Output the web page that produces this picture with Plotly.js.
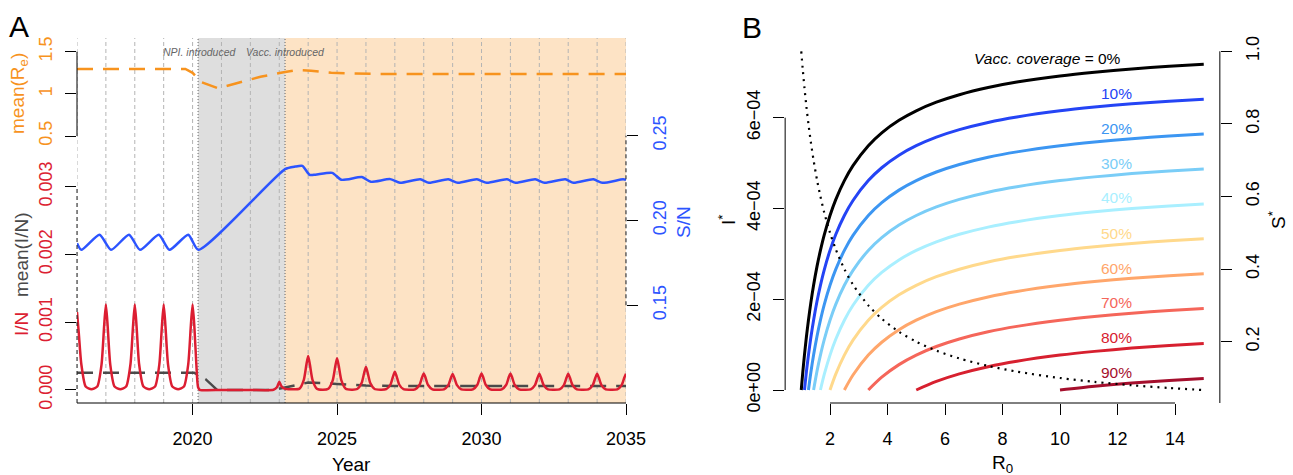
<!DOCTYPE html>
<html>
<head>
<meta charset="utf-8">
<script src="https://cdn.plot.ly/plotly-3.0.1.min.js"></script>
<style>html,body{margin:0;padding:0;background:#fff;}#chart{width:1293px;height:475px;}</style>
</head>
<body>
<div id="chart"></div>
<script>
// ---------- Panel A data ----------
const YEAR_GRID = [2016,2017,2018,2019,2020,2021,2022,2023,2024,2025,2026,2027,2028,2029,2030,2031,2032,2033,2034,2035];
const YEAR_TICKS = [2020, 2025, 2030, 2035];
const NPI_START = 2020.19;
const VACC_START = 2023.2;

// I/N (prevalence)
const IN_T = [
2016.00,2016.06,2016.15,2016.30,2016.50,
2016.70,2016.85,2016.94,2017.00,2017.06,2017.15,2017.30,2017.50,
2017.70,2017.85,2017.94,2018.00,2018.06,2018.15,2018.30,2018.50,
2018.70,2018.85,2018.94,2019.00,2019.06,2019.15,2019.30,2019.50,
2019.70,2019.85,2019.94,2020.00,2020.06,2020.13,2020.19,2020.25,
2021.00,2022.00,2022.80,2022.92,2023.00,2023.07,2023.18,2023.40,
2023.70,2023.85,2023.94,2024.00,2024.06,2024.15,2024.30,2024.50,
2024.70,2024.85,2024.94,2025.00,2025.06,2025.15,2025.30,2025.50,
2025.70,2025.85,2025.94,2026.00,2026.06,2026.15,2026.30,2026.50,
2026.70,2026.85,2026.94,2027.00,2027.06,2027.15,2027.30,2027.50,
2027.70,2027.85,2027.94,2028.00,2028.06,2028.15,2028.30,2028.50,
2028.70,2028.85,2028.94,2029.00,2029.06,2029.15,2029.30,2029.50,
2029.70,2029.85,2029.94,2030.00,2030.06,2030.15,2030.30,2030.50,
2030.70,2030.85,2030.94,2031.00,2031.06,2031.15,2031.30,2031.50,
2031.70,2031.85,2031.94,2032.00,2032.06,2032.15,2032.30,2032.50,
2032.70,2032.85,2032.94,2033.00,2033.06,2033.15,2033.30,2033.50,
2033.70,2033.85,2033.94,2034.00,2034.06,2034.15,2034.30,2034.50,
2034.70,2034.85,2034.94,2035.00];
const IN_V = [
0.00115,0.00085,0.00038,0.00005,0.00001,
0.00005,0.00038,0.00095,0.00126,0.00095,0.00038,0.00005,0.00001,
0.00005,0.00038,0.00095,0.00126,0.00095,0.00038,0.00005,0.00001,
0.00005,0.00038,0.00095,0.00126,0.00095,0.00038,0.00005,0.00001,
0.00005,0.00038,0.00095,0.00126,0.00095,0.00038,0.00004,0.000003,
0,0,0.000003,0.00004,0.00012,0.00006,0.00002,0.00001,
0.00002,0.00015,0.000375,0.0005,0.000375,0.00015,0.00002,0.000005,
0.000019,0.000141,0.000353,0.00047,0.000353,0.000141,0.000019,0.000005,
0.000014,0.000102,0.000255,0.00034,0.000255,0.000102,0.000014,0.000004,
0.000011,0.000081,0.000203,0.00027,0.000203,0.000081,0.000011,0.000004,
0.00001,0.0000735,0.000184,0.000245,0.000184,0.0000735,0.00001,0.000004,
0.0000094,0.000071,0.000177,0.000236,0.000177,0.000071,0.0000094,0.000004,
0.00001,0.0000735,0.000184,0.000245,0.000184,0.0000735,0.00001,0.000004,
0.00001,0.0000735,0.000184,0.000245,0.000184,0.0000735,0.00001,0.000004,
0.0000096,0.000072,0.00018,0.00024,0.00018,0.000072,0.0000096,0.000004,
0.0000096,0.000072,0.00018,0.00024,0.00018,0.000072,0.0000096,0.000004,
0.0000096,0.000072,0.00018,0.00024,0.00018,0.000072,0.0000096,0.000004,
0.0000096,0.000072,0.00018,0.00024];

// mean(I/N)
const MI_T = [2016, 2020.05, 2020.45, 2020.85, 2022.8, 2023.4, 2024.0, 2025.0, 2026.0, 2027.0, 2035];
const MI_V = [0.000255, 0.000255, 0.00016, 0, 0, 0.00005, 0.00011, 0.00009, 0.000065, 0.00006, 0.00006];

// mean(Re)
const RE_T = [2016, 2019.75, 2020.0, 2020.3, 2020.88, 2021.5, 2022.35, 2023.15, 2023.6, 2024.1, 2024.8, 2025.4, 2026.5, 2035];
const RE_V = [1.295, 1.295, 1.25, 1.14, 1.066, 1.125, 1.203, 1.256, 1.283, 1.275, 1.251, 1.242, 1.235, 1.235];

// S/N
const SN_T = [2016.00,2016.15,2016.78,2017.18,2017.80,2018.18,2018.83,2019.20,2019.85,2020.20,
2023.20,2023.55,2023.80,2024.05,2024.25,2024.83,2025.15,2025.86,2026.17,2026.84,2027.18,
2027.88,2028.18,2028.85,2029.18,2029.84,2030.18,2030.88,2031.18,2031.86,2032.18,2032.90,
2033.18,2033.87,2034.18,2034.90,2035.00];
const SN_V = [0.1866,0.1827,0.1916,0.1827,0.1916,0.1827,0.1916,0.1827,0.1916,0.1827,
0.2303,0.2318,0.2322,0.2269,0.2270,0.2281,0.2240,0.2256,0.2228,0.2244,0.2222,
0.2243,0.2222,0.2243,0.2222,0.2243,0.2222,0.2243,0.2222,0.2243,0.2222,0.2243,
0.2222,0.2243,0.2222,0.2243,0.2240];

// ---------- Panel B data ----------
const R0 = [1,1.05,1.111,1.18,1.25,1.33,1.429,1.55,1.667,1.8,2,2.2,2.5,2.8,3.333,3.8,4.4,5,5.7,6.5,7.5,8.5,10,11.2,12.5,13.8,15];
const R0_TICKS = [2,4,6,8,10,12,14];
// I* in units of 1e-4, each curve ends at R0 = 15 (aligned to the end of R0)
const I_0  = [0,0.366,0.769,1.173,1.538,1.908,2.307,2.729,3.076,3.418,3.845,4.195,4.614,4.944,5.383,5.666,5.942,6.152,6.341,6.507,6.665,6.785,6.921,7.003,7.075,7.133,7.177];
const I_10 = [0,0.404,0.769,1.139,1.538,1.960,2.307,2.649,3.076,3.426,3.845,4.175,4.614,4.897,5.173,5.383,5.572,5.738,5.896,6.016,6.152,6.234,6.306,6.364,6.408];
const I_20 = [0,0.370,0.769,1.191,1.538,1.880,2.307,2.657,3.076,3.406,3.845,4.128,4.404,4.614,4.803,4.969,5.127,5.247,5.383,5.465,5.537,5.595,5.639];
const I_30 = [0,0.422,0.769,1.111,1.538,1.888,2.307,2.637,3.076,3.359,3.635,3.845,4.034,4.200,4.358,4.478,4.614,4.696,4.768,4.826,4.870];
const I_40 = [0,0.342,0.769,1.119,1.538,1.868,2.307,2.590,2.866,3.076,3.265,3.431,3.589,3.709,3.845,3.927,3.999,4.057,4.101];
const I_50 = [0,0.350,0.769,1.099,1.538,1.821,2.097,2.307,2.496,2.662,2.820,2.940,3.076,3.158,3.230,3.288,3.332];
const I_60 = [0,0.330,0.769,1.052,1.328,1.538,1.727,1.893,2.051,2.171,2.307,2.389,2.461,2.519,2.563];
const I_70 = [0,0.283,0.559,0.769,0.958,1.124,1.282,1.402,1.538,1.620,1.692,1.750,1.794];
const I_80 = [0,0.189,0.355,0.513,0.633,0.769,0.851,0.923,0.981,1.025];
const I_90 = [0,0.082,0.154,0.212,0.256];
const COVERAGE = ['0%','10%','20%','30%','40%','50%','60%','70%','80%','90%'];
const S_STAR = [1,0.9524,0.9,0.8475,0.8,0.7519,0.7,0.6452,0.6,0.5556,0.5,0.4545,0.4,0.3571,0.3,0.2632,0.2273,0.2,0.1754,0.1538,0.1333,0.1176,0.1,0.0893,0.08,0.0725,0.0667];

// ---------- styling ----------
const W = 1293, H = 475;
const px = x => x / W, py = y => 1 - y / H;
const FONT = 'Liberation Sans, Arimo, Helvetica, Arial, sans-serif';
const RED = '#DC1E32', BLUE = '#2C54FF', ORANGE = '#F7931E', GREY = '#4a4a4a';
const CURVE_COLORS = ['#000000','#2444F5','#3C96F2','#7ACDF7','#A9EFFF','#FFD98C','#FFA66B','#F5665A','#D7202F','#A50F2D'];
const CURVES = [I_0,I_10,I_20,I_30,I_40,I_50,I_60,I_70,I_80,I_90];
const LABEL_Y = [59, 94, 128.5, 163, 197.5, 233, 268, 302.5, 337, 372.5];

const domA = [px(77), px(626)];
const domB = [px(785.15), px(1219.85)];
const domY = [py(403), py(38)];

const traces = [];
traces.push({x: MI_T, y: MI_V, xaxis:'x', yaxis:'y', mode:'lines', line:{color:GREY, width:2.5, dash:'16px,10px'}, hoverinfo:'skip'});
traces.push({x: IN_T, y: IN_V, xaxis:'x', yaxis:'y', mode:'lines', line:{color:RED, width:2.5, shape:'spline', smoothing:0.6}, hoverinfo:'skip'});
traces.push({x: RE_T, y: RE_V, xaxis:'x', yaxis:'y2', mode:'lines', line:{color:ORANGE, width:2.5, dash:'16px,10px'}, hoverinfo:'skip'});
traces.push({x: SN_T, y: SN_V, xaxis:'x', yaxis:'y3', mode:'lines', line:{color:BLUE, width:2.5, shape:'spline', smoothing:0.6}, hoverinfo:'skip'});

CURVES.forEach((vals, i) => {
  traces.push({x: R0.slice(R0.length - vals.length), y: vals, xaxis:'x2', yaxis:'y4', mode:'lines',
    line:{color:CURVE_COLORS[i], width:3, shape:'spline', smoothing:0.8}, hoverinfo:'skip'});
});
traces.push({x: R0, y: S_STAR, xaxis:'x2', yaxis:'y5', mode:'lines', line:{color:'#000', width:2.2, dash:'2px,5px', shape:'spline', smoothing:0.8}, hoverinfo:'skip'});

const tickFont = c => ({family:FONT, size:18, color:c});
const baseAx = {showgrid:false, zeroline:false, showline:false, ticks:'outside', ticklen:11, tickwidth:1, tickcolor:'#000', fixedrange:true};

const shapes = [];
// shaded periods
shapes.push({type:'rect', xref:'x', yref:'paper', x0:NPI_START, x1:VACC_START, y0:domY[0], y1:domY[1], fillcolor:'#DEDEDE', line:{width:0}, layer:'below'});
shapes.push({type:'rect', xref:'x', yref:'paper', x0:VACC_START, x1:2035, y0:domY[0], y1:domY[1], fillcolor:'#FDE3C5', line:{width:0}, layer:'below'});
// yearly grid
YEAR_GRID.forEach(yr => shapes.push({type:'line', xref:'x', yref:'paper', x0:yr, x1:yr, y0:domY[0], y1:domY[1], line:{color:'#B4B4B4', width:1, dash:'4px,3px'}, layer:'below'}));
// intervention markers
[NPI_START, VACC_START].forEach(t => shapes.push({type:'line', xref:'x', yref:'paper', x0:t, x1:t, y0:domY[0], y1:domY[1], line:{color:'#666', width:1, dash:'1px,2px'}, layer:'below'}));
// axis lines panel A
shapes.push({type:'line', xref:'x', yref:'paper', x0:2016, x1:2035, y0:domY[0], y1:domY[0], line:{color:'#000', width:1}});
shapes.push({type:'line', xref:'paper', yref:'y2', x0:domA[0], x1:domA[0], y0:0.5, y1:1.5, line:{color:'#000', width:1}});
shapes.push({type:'line', xref:'paper', yref:'y', x0:domA[0], x1:domA[0], y0:-0.000192, y1:0.003, line:{color:'#222', width:1, dash:'4px,3px'}});
shapes.push({type:'line', xref:'paper', yref:'y3', x0:domA[1], x1:domA[1], y0:0.15, y1:0.25, line:{color:'#222', width:1, dash:'4px,3px'}});
// axis lines panel B
shapes.push({type:'line', xref:'x2', yref:'paper', x0:2, x1:14, y0:domY[0], y1:domY[0], line:{color:'#000', width:1}});
shapes.push({type:'line', xref:'paper', yref:'y4', x0:domB[0], x1:domB[0], y0:0, y1:6, line:{color:'#000', width:1}});
shapes.push({type:'line', xref:'paper', yref:'y5', x0:domB[1], x1:domB[1], y0:0.0311, y1:1.0, line:{color:'#000', width:1}});

const ann = (text, x, y, o) => Object.assign({text, x:px(x), y:py(y), xref:'paper', yref:'paper', showarrow:false, xanchor:'center', yanchor:'middle', borderpad:0, font:{family:FONT, size:19, color:'#000'}}, o||{});
const annotations = [
  ann('A', 19, 26, {font:{family:FONT, size:30, color:'#000'}}),
  ann('B', 752, 27, {font:{family:FONT, size:30, color:'#000'}}),
  ann('mean(R<sub>e</sub>)', 19, 94, {textangle:-90, font:{family:FONT, size:19, color:ORANGE}}),
  ann('mean(I/N)', 21, 255, {textangle:-90, font:{family:FONT, size:19, color:GREY}}),
  ann('I/N', 21, 324, {textangle:-90, font:{family:FONT, size:19, color:RED}}),
  ann('S/N', 683, 222, {textangle:-90, font:{family:FONT, size:19, color:BLUE}}),
  ann('Year', 351.5, 464, {}),
  ann('<i>NPI. introduced</i>', 237.5, 51.7, {xanchor:'right', font:{family:FONT, size:10.5, color:'#666'}}),
  ann('<i>Vacc. introduced</i>', 326.5, 51.7, {xanchor:'right', font:{family:FONT, size:10.5, color:'#666'}}),
  ann('R<sub>0</sub>', 1002, 464, {}),
  ann('I<sup>*</sup>', 727, 220, {textangle:-90}),
  ann('S<sup>*</sup>', 1277, 220, {textangle:-90}),
  ann('<i>Vacc. coverage = </i>' + COVERAGE[0], 1122, LABEL_Y[0], {xanchor:'right', font:{family:FONT, size:15.5, color:'#000'}})
];
for (let i = 1; i < COVERAGE.length; i++) {
  annotations.push(ann(COVERAGE[i], 1116, LABEL_Y[i], {font:{family:FONT, size:15.5, color:CURVE_COLORS[i]}}));
}

const layout = {
  width:W, height:H, margin:{l:0,r:0,t:0,b:0}, paper_bgcolor:'#fff', plot_bgcolor:'rgba(0,0,0,0)',
  showlegend:false, font:{family:FONT, size:18, color:'#000'},
  xaxis: Object.assign({}, baseAx, {domain:domA, range:[2016,2035], anchor:'y', tickvals:YEAR_TICKS, ticktext:YEAR_TICKS.map(String), tickfont:tickFont('#000'), ticklabelstandoff:8}),
  yaxis: Object.assign({}, baseAx, {domain:domY, range:[-0.000192, 0.005194], anchor:'x', side:'left', tickvals:[0,0.001,0.002,0.003], ticktext:['0.000','0.001','0.002','0.003'], tickangle:-90, tickfont:tickFont(RED), ticklabelstandoff:6}),
  yaxis2: Object.assign({}, baseAx, {overlaying:'y', range:[-2.667, 1.6625], anchor:'x', side:'left', tickvals:[0.5,1,1.5], ticktext:['0.5','1','1.5'], tickangle:-90, tickfont:tickFont(ORANGE), ticklabelstandoff:6}),
  yaxis3: Object.assign({}, baseAx, {overlaying:'y', range:[0.0924, 0.3076], anchor:'x', side:'right', tickvals:[0.15,0.2,0.25], ticktext:['0.15','0.20','0.25'], tickangle:-90, tickfont:tickFont(BLUE), ticklabelstandoff:6}),
  xaxis2: Object.assign({}, baseAx, {domain:domB, range:[0.44,15.56], anchor:'y4', tickvals:R0_TICKS, ticktext:R0_TICKS.map(String), tickfont:tickFont('#000'), ticklabelstandoff:8}),
  yaxis4: Object.assign({}, baseAx, {domain:domY, range:[-0.2864, 7.756], anchor:'x2', side:'left', tickvals:[0,2,4,6], ticktext:['0e+00','2e\u221204','4e\u221204','6e\u221204'], tickangle:-90, tickfont:tickFont('#000'), ticklabelstandoff:6}),
  yaxis5: Object.assign({}, baseAx, {overlaying:'y4', range:[0.0311, 1.0366], anchor:'x2', side:'right', tickvals:[0.2,0.4,0.6,0.8,1.0], ticktext:['0.2','0.4','0.6','0.8','1.0'], tickangle:-90, tickfont:tickFont('#000'), ticklabelstandoff:6}),
  shapes, annotations
};

Plotly.newPlot('chart', traces, layout, {staticPlot:true, displayModeBar:false});
</script>
</body>
</html>
